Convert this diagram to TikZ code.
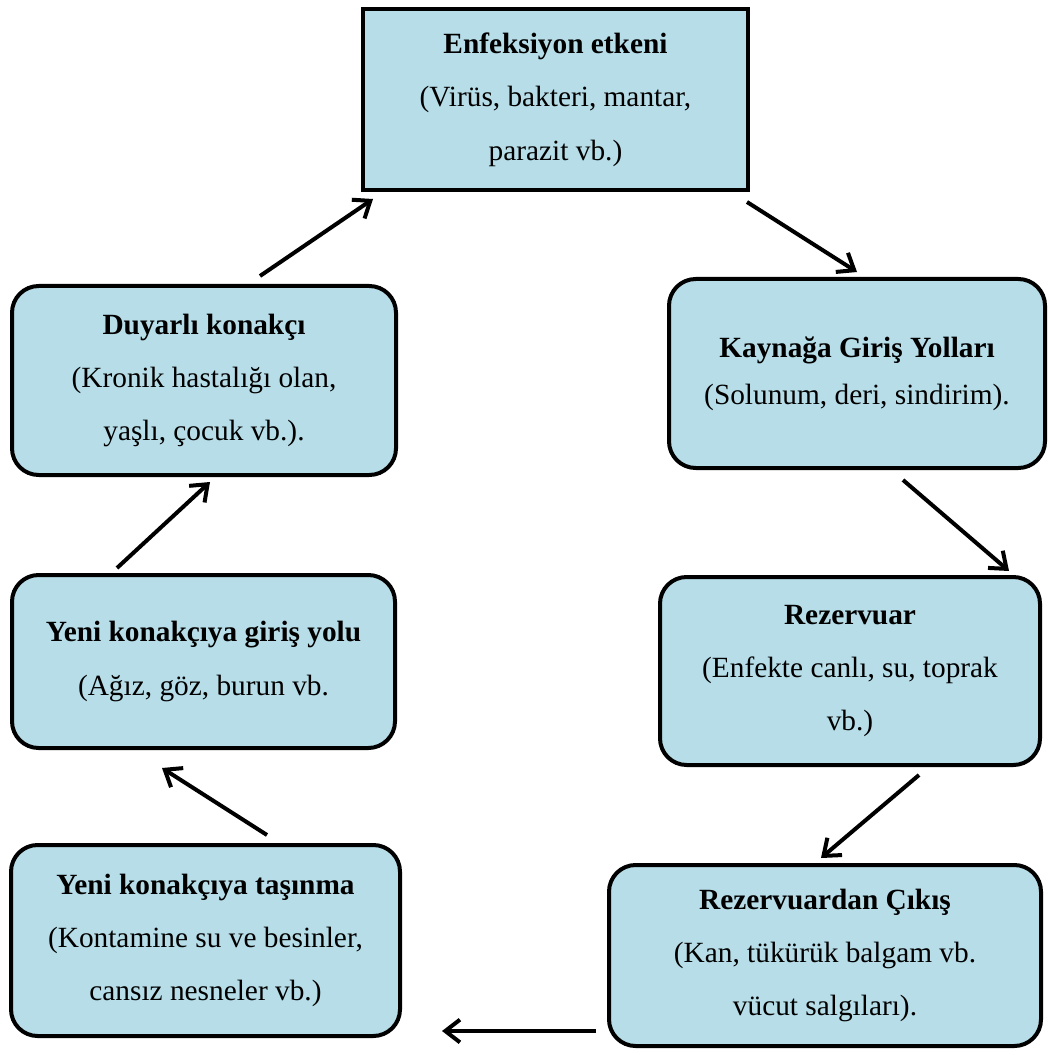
\documentclass[tikz,border=0pt]{standalone}
\usepackage{fontspec}
\setmainfont{Liberation Serif}
\usetikzlibrary{arrows.meta}

\definecolor{boxblue}{HTML}{B6DDE8}
\tikzset{
  stage/.style={draw, line width=3pt, fill=boxblue, rounded corners=20pt, align=center, inner sep=0pt},
  flow/.style={line width=3pt, -{Straight Barb[length=11pt,width=17pt]}}
}

\begin{document}
\begin{tikzpicture}[x=0.75pt, y=-0.75pt, font={\fontsize{22}{40}\selectfont}]

\useasboundingbox (0,0) rectangle (1049,1055);

\node[stage, sharp corners, minimum width=288.75pt, minimum height=135.75pt] (etken) at (555.5,99.5)
  {\textbf{Enfeksiyon etkeni}\\(Virüs, bakteri, mantar,\\parazit vb.)};

\node[stage, minimum width=288pt, minimum height=141.75pt] (duyarli) at (204,380.5)
  {\textbf{Duyarlı konakçı}\\(Kronik hastalığı olan,\\yaşlı, çocuk vb.).};

\node[stage, minimum width=282pt, minimum height=141.75pt] (kaynak) at (857,373.5)
  {\textbf{Kaynağa Giriş Yolları}\\[-5pt](Solunum, deri, sindirim).};

\node[stage, minimum width=287.25pt, minimum height=129.75pt] (giris) at (203.5,661.5)
  {\textbf{Yeni konakçıya giriş yolu}\\(Ağız, göz, burun vb.};

\node[stage, minimum width=285pt, minimum height=141pt] (rezervuar) at (850,671)
  {\textbf{Rezervuar}\\(Enfekte canlı, su, toprak\\vb.)};

\node[stage, minimum width=324pt, minimum height=135.75pt] (cikis) at (825,955.5)
  {\textbf{Rezervuardan Çıkış}\\(Kan, tükürük balgam vb.\\vücut salgıları).};

\node[stage, minimum width=291.75pt, minimum height=143.25pt] (tasinma) at (205.5,940.5)
  {\textbf{Yeni konakçıya taşınma}\\(Kontamine su ve besinler,\\cansız nesneler vb.)};

% cycle arrows
\draw[flow] ([shift={(56,-8)}]duyarli.north) -- ([shift={(12,7)}]etken.south west);
\draw[flow] ([shift={(-3,10)}]etken.south east) -- ([shift={(0,-5)}]kaynak.north);
\draw[flow] ([shift={(46,10)}]kaynak.south) -- ([shift={(-33,-4)}]rezervuar.north east);
\draw[flow] ([shift={(69,8)}]rezervuar.south) -- ([shift={(-4,-5)}]cikis.north);
\draw[flow] ([shift={(-11,-17)}]cikis.south west) -- ([shift={(40,-7)}]tasinma.south east);
\draw[flow] ([shift={(61.5,-8)}]tasinma.north) -- ([shift={(-41.5,18)}]giris.south);
\draw[flow] ([shift={(-86.5,-5)}]giris.north) -- ([shift={(6,5)}]duyarli.south);

\end{tikzpicture}
\end{document}
